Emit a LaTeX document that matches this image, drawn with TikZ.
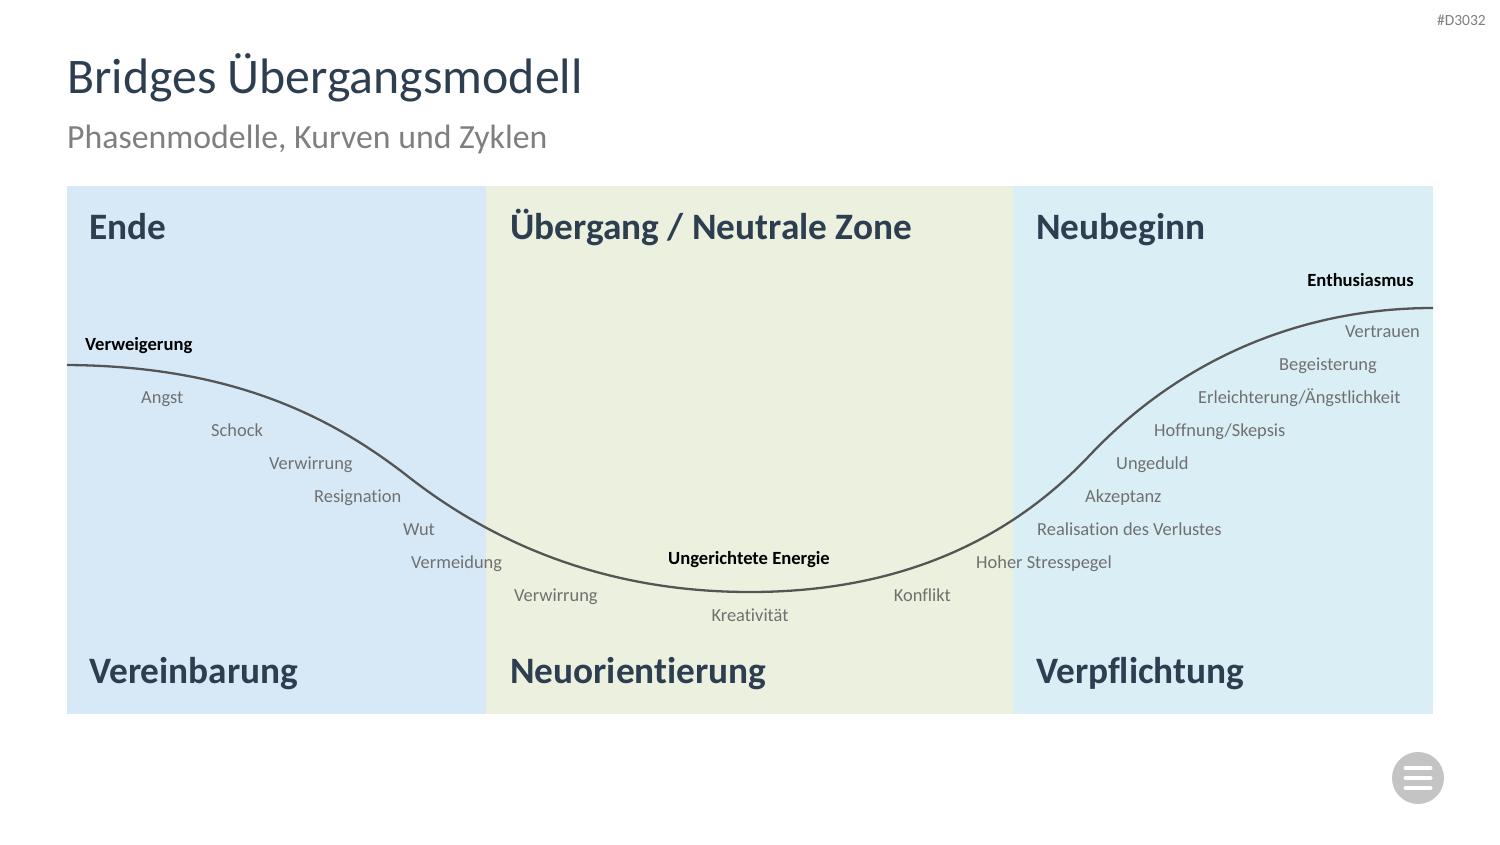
\documentclass[tikz,border=0pt]{standalone}
\usepackage{fontspec}
\setmainfont{Carlito}[RawFeature={-liga;-clig;-calt;-dlig}]
\usetikzlibrary{positioning}
\definecolor{slate}{HTML}{2C3E50}
\definecolor{subgray}{HTML}{7F7F7F}
\definecolor{labelgray}{HTML}{707070}
\definecolor{curvegray}{HTML}{555555}
\definecolor{endblue}{HTML}{D7E9F7}
\definecolor{zonegreen}{HTML}{EBF0DF}
\definecolor{newblue}{HTML}{DAEEF6}
\definecolor{btngray}{HTML}{C4C4C4}

\begin{document}
\begin{tikzpicture}[x=1pt, y=-1pt,
    phase/.style={font=\fontsize{37.3}{40}\selectfont\bfseries, text=slate, anchor=base west, inner sep=0pt},
    feel/.style={font=\fontsize{18.4}{20}\selectfont, text=labelgray, anchor=base west, inner sep=0pt},
    peak/.style={font=\fontsize{18.6}{20}\selectfont\bfseries, text=black, anchor=base west, inner sep=0pt},
    curve/.style={line width=2.3pt, draw=curvegray},
    bar/.style={line width=4pt, draw=white, line cap=round}
]
\useasboundingbox[fill=white] (0,0) rectangle (1500,844);

% phase panels
\fill[endblue] (67,186) rectangle (486,714);
\fill[zonegreen] (486,186) rectangle (1013,714);
\fill[newblue] (1013,186) rectangle (1433,714);

% title
\node[anchor=base west, inner sep=0pt, text=slate, font=\fontsize{49.8}{54}\selectfont] (title) at (67,93) {Bridges Übergangsmodell};
\node[anchor=base west, inner sep=0pt, text=subgray, font=\fontsize{33.8}{38}\selectfont] (subtitle) at (67,148) {Phasenmodelle, Kurven und Zyklen};
\node[anchor=base east, inner sep=0pt, text=subgray, font=\fontsize{15.5}{17}\selectfont] (code) at (1486,25) {\#D3032};

% phase headings
\node[phase] (ende) at (89,239) {Ende};
\node[phase] (zone) at (510,239) {Übergang / Neutrale Zone};
\node[phase] (neu) at (1036,239) {Neubeginn};
\node[phase] (verein) at (89,683) {Vereinbarung};
\node[phase] (orient) at (510,683) {Neuorientierung};
\node[phase] (pflicht) at (1036,683) {Verpflichtung};

% transition curve
\draw[curve] (67,365) .. controls (230,366) and (330,415) .. (410,478)
    .. controls (490,540) and (600,592) .. (750,592)
    .. controls (900,592) and (1010,540) .. (1090,455)
    .. controls (1180,360) and (1300,308) .. (1433,308);

% emotions
\node[peak] (verweig) at (85,350) {Verweigerung};
\node[feel] (angst) at (141,403) {Angst};
\node[feel] (schock) at (211,436) {Schock};
\node[feel] (verwirr) at (269,469) {Verwirrung};
\node[feel] (resign) at (314,502) {Resignation};
\node[feel] (wut) at (403,535) {Wut};
\node[feel] (vermeid) at (411,568) {Vermeidung};
\node[feel] (verwirrz) at (514,601) {Verwirrung};
\node[peak, anchor=base] (energie) at (749,564) {Ungerichtete Energie};
\node[feel, anchor=base] (kreativ) at (750,621) {Kreativität};
\node[feel, anchor=base east] (konflikt) at (951,601) {Konflikt};
\node[feel] (stress) at (976,568) {Hoher Stresspegel};
\node[feel] (verlust) at (1037,535) {Realisation des Verlustes};
\node[feel] (akzept) at (1085,502) {Akzeptanz};
\node[feel] (geduld) at (1116,469) {Ungeduld};
\node[feel] (hoff) at (1154,436) {Hoffnung/Skepsis};
\node[feel] (erleicht) at (1198,403) {Erleichterung/Ängstlichkeit};
\node[feel] (begeist) at (1279,370) {Begeisterung};
\node[feel, anchor=base east] (vertrau) at (1420,337) {Vertrauen};
\node[peak, anchor=base east] (enthus) at (1414,286) {Enthusiasmus};

% menu button
\node[circle, fill=btngray, minimum size=52pt, inner sep=0pt] (menu) at (1418,778) {};
\foreach \dy in {-10,0,10}
  \draw[bar] ([xshift=-12.5pt, yshift=\dy pt]menu.center) -- ([xshift=12.5pt, yshift=\dy pt]menu.center);
\end{tikzpicture}
\end{document}
